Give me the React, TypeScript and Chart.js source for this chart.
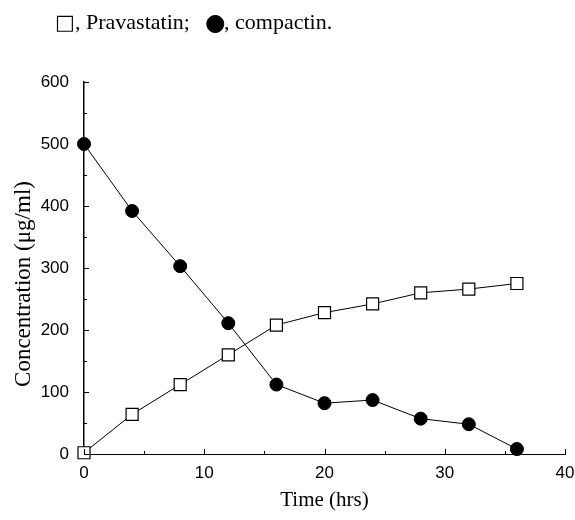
import React, { useEffect, useRef } from "react";
import { Chart, registerables } from "chart.js";

Chart.register(...registerables);

const hours = [0, 4, 8, 12, 16, 20, 24, 28, 32, 36];
const pravastatin = [2, 64, 112, 160, 208, 228, 242, 260, 266, 275];
const compactin = [500, 392, 303, 211, 112, 82, 87, 57, 48, 8];
const xTicks = [0, 10, 20, 30, 40];
const yTicks = [0, 100, 200, 300, 400, 500, 600];
const legendParts = [
  { t: "\u25A1", sym: 21, x: 55 },
  { t: ", Pravastatin;", sym: 0, x: 75 },
  { t: "\u25CF", sym: 23.5, x: 205 },
  { t: ", compactin.", sym: 0, x: 224 },
];
const xTitle = "Time (hrs)";
const yTitle = "Concentration (\u03BCg/ml)";

const SERIF = "'Liberation Serif', 'Times New Roman', serif";
const SANS = "'Liberation Sans', Arial, sans-serif";
const SYM = "'DejaVu Sans', sans-serif";

const decor = {
  id: "decor",
  afterDraw(chart: any) {
    const ctx = chart.ctx;
    const xs = chart.scales.x;
    const ys = chart.scales.y;
    const area = chart.chartArea;
    ctx.save();
    ctx.strokeStyle = "#000";
    ctx.lineWidth = 1;
    for (let v = 0; v <= 40; v += 5) {
      const px = Math.round(xs.getPixelForValue(v)) + 0.5;
      const len = v % 10 === 0 ? 5 : 3;
      ctx.beginPath();
      ctx.moveTo(px, area.bottom);
      ctx.lineTo(px, area.bottom - len);
      ctx.stroke();
    }
    for (let v = 0; v <= 600; v += 50) {
      const py = Math.round(ys.getPixelForValue(v)) + 0.5;
      const len = v % 100 === 0 ? 5 : 3;
      ctx.beginPath();
      ctx.moveTo(area.left, py);
      ctx.lineTo(area.left + len, py);
      ctx.stroke();
    }
    ctx.fillStyle = "#000";
    ctx.textAlign = "center";
    ctx.textBaseline = "middle";
    ctx.font = `21px ${SERIF}`;
    ctx.fillText(xTitle, (area.left + area.right) / 2, 500);
    ctx.save();
    ctx.translate(24, 284);
    ctx.rotate(-Math.PI / 2);
    ctx.font = `23px ${SERIF}`;
    ctx.fillText(yTitle, 0, 0);
    ctx.restore();
    ctx.textAlign = "left";
    const y = 23;
    legendParts.forEach((p) => {
      ctx.font = p.sym ? `${p.sym}px ${SYM}` : `22px ${SERIF}`;
      ctx.fillText(p.t, p.x, p.sym ? y + 1 : y);
    });
    ctx.restore();
  },
};

export default function App() {
  const ref = useRef<HTMLCanvasElement>(null);
  useEffect(() => {
    if (!ref.current) return;
    const chart = new Chart(ref.current, {
      type: "line",
      data: {
        datasets: [
          {
            label: "Pravastatin",
            data: hours.map((h, i) => ({ x: h, y: pravastatin[i] })),
            borderColor: "#000",
            borderWidth: 1,
            pointStyle: "rect",
            pointRadius: 8.5,
            pointBackgroundColor: "#fff",
            pointBorderColor: "#000",
            pointBorderWidth: 1.2,
            tension: 0,
          },
          {
            label: "compactin",
            data: hours.map((h, i) => ({ x: h, y: compactin[i] })),
            borderColor: "#000",
            borderWidth: 1,
            pointStyle: "circle",
            pointRadius: 6.5,
            pointBackgroundColor: "#000",
            pointBorderColor: "#000",
            pointBorderWidth: 1,
            tension: 0,
          },
        ],
      },
      options: {
        responsive: false,
        animation: false,
        clip: false,
        layout: { padding: { left: 0, top: 82, right: 0, bottom: 0 } },
        plugins: { legend: { display: false }, tooltip: { enabled: false }, title: { display: false } },
        scales: {
          x: {
            type: "linear",
            min: 0,
            max: 40,
            afterFit: (s: any) => {
              s.height = 66;
              s.paddingRight = 10;
              s.paddingLeft = 0;
            },
            afterBuildTicks: (s: any) => {
              s.ticks = xTicks.map((v) => ({ value: v }));
            },
            grid: { display: true, drawOnChartArea: false, drawTicks: false },
            border: { display: true, color: "#000", width: 1 },
            ticks: { color: "#000", font: { family: SANS, size: 17 }, padding: 9, maxRotation: 0 },
          },
          y: {
            type: "linear",
            min: 0,
            max: 600,
            afterFit: (s: any) => {
              s.width = 84;
            },
            afterBuildTicks: (s: any) => {
              s.ticks = yTicks.map((v) => ({ value: v }));
            },
            grid: { display: true, drawOnChartArea: false, drawTicks: false },
            border: { display: true, color: "#000", width: 1.5 },
            ticks: { color: "#000", font: { family: SANS, size: 17 }, padding: 15 },
          },
        },
      },
      plugins: [decor],
    });
    return () => chart.destroy();
  }, []);
  return (
    <div style={{ position: "fixed", left: 0, top: 0, width: 575, height: 520, background: "#fff" }}>
      <canvas ref={ref} width={575} height={520} />
    </div>
  );
}
